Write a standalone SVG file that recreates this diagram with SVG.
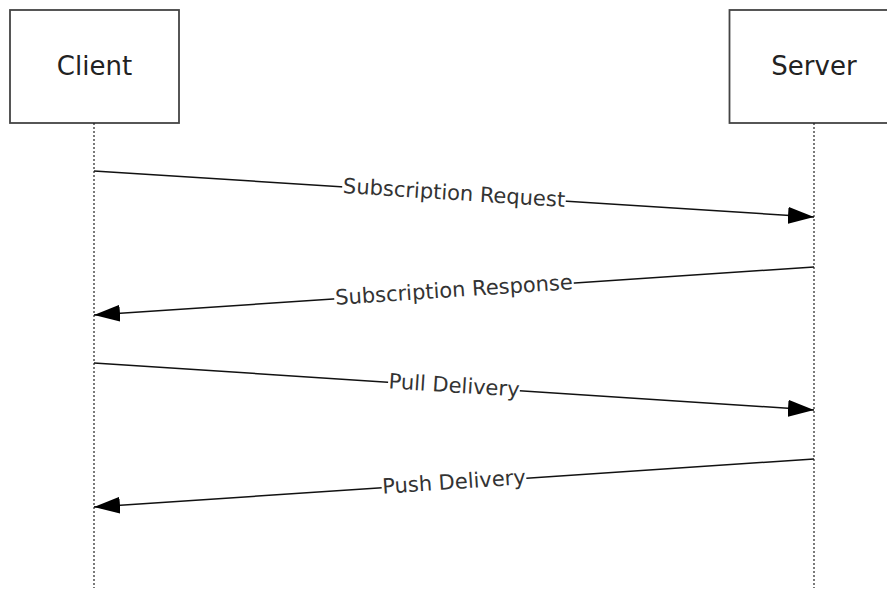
<svg xmlns="http://www.w3.org/2000/svg" width="887" height="592" viewBox="0 0 887 592">
<style>
.box{fill:#fff;stroke:#444;stroke-width:1.8}
.title{font-family:"DejaVu Sans",sans-serif;font-size:26px;fill:#222;text-anchor:middle}
.life{stroke:#222;stroke-width:1.2;stroke-dasharray:2 2;fill:none}
.msg{stroke:#111;stroke-width:1.5;fill:none;marker-end:url(#ah)}
.lbl{font-family:"DejaVu Sans",sans-serif;font-size:21px;fill:#333;text-anchor:middle}
.bg{fill:#fff}
</style>
<defs>
<marker id="ah" viewBox="0 0 26 17" refX="26" refY="8.5" markerWidth="26" markerHeight="17" markerUnits="userSpaceOnUse" orient="auto">
<path d="M0,0 L26,8.5 L0,17 Z" fill="#000"/>
</marker>
</defs>
<g id="client">
<rect class="box" x="10" y="10" width="169" height="113"/>
<text class="title" x="94.5" y="75">Client</text>
</g>
<g id="server">
<rect class="box" x="729.5" y="10" width="170" height="113"/>
<text class="title" x="814" y="75">Server</text>
</g>
<g id="connectors">
<line class="life" x1="94" y1="123" x2="94" y2="588"/>
<line class="life" x1="814" y1="123" x2="814" y2="588"/>
<line class="msg" x1="94" y1="171" x2="814" y2="217"/>
<line class="msg" x1="814" y1="267" x2="94" y2="315"/>
<line class="msg" x1="94" y1="363" x2="814" y2="410"/>
<line class="msg" x1="814" y1="459" x2="94" y2="507"/>
<g transform="translate(454,194) rotate(3.65)">
<rect class="bg" x="-112" y="-8" width="224" height="14"/>
<text class="lbl" x="0" y="6">Subscription Request</text>
</g>
<g transform="translate(454,291) rotate(-3.8)">
<rect class="bg" x="-120" y="-8" width="240" height="14"/>
<text class="lbl" x="0" y="6">Subscription Response</text>
</g>
<g transform="translate(454,386.5) rotate(3.7)">
<rect class="bg" x="-66" y="-8" width="132" height="14"/>
<text class="lbl" x="0" y="6">Pull Delivery</text>
</g>
<g transform="translate(454,483) rotate(-3.8)">
<rect class="bg" x="-72.5" y="-8" width="145" height="14"/>
<text class="lbl" x="0" y="6">Push Delivery</text>
</g>
</g>
</svg>
